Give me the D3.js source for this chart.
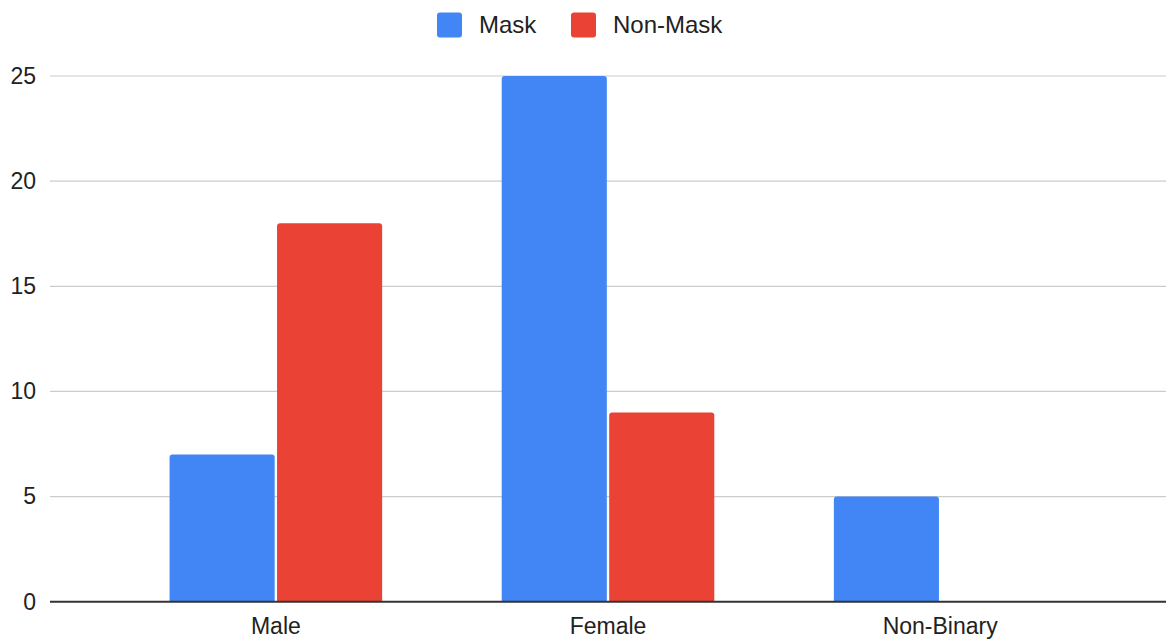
<!DOCTYPE html>
<html>
<head>
<meta charset="utf-8">
<script src="https://cdn.jsdelivr.net/npm/d3@7"></script>
<style>
  html, body { margin: 0; padding: 0; background: #fff; }
  svg { display: block; font-family: "Liberation Sans", Arial, sans-serif; }
</style>
</head>
<body>
<svg id="chart" width="1166" height="641"></svg>
<script>
// Survey counts by gender, split by mask wearing
const categories = ["Male", "Female", "Non-Binary"];
const seriesNames = ["Mask", "Non-Mask"];
const maskValues = [7, 25, 5];
const nonMaskValues = [18, 9, 0];
const yTicks = [0, 5, 10, 15, 20, 25];
const colors = ["#4285F4", "#EA4335"];

const seriesValues = [maskValues, nonMaskValues];
const rows = categories.map((c, i) => ({
  category: c,
  values: seriesNames.map((s, j) => ({ series: s, value: seriesValues[j][i], idx: j }))
}));

const svg = d3.select("#chart");
const W = 1166, H = 641;
const margin = { left: 50, right: 0, top: 76, bottom: 39 };
const plotBottom = 601.7;

const y = d3.scaleLinear().domain([0, 25]).range([plotBottom, 76]);
const x0 = d3.scaleBand().domain(categories).range([margin.left, W - margin.right]).padding(0.36);
const x1 = d3.scaleBand().domain(seriesNames).range([0, x0.bandwidth()]).paddingInner(0.022);

// Horizontal gridlines
svg.append("g")
  .selectAll("line")
  .data(yTicks.filter(t => t !== 0))
  .join("line")
  .attr("x1", margin.left).attr("x2", W)
  .attr("y1", d => y(d)).attr("y2", d => y(d))
  .attr("stroke", "#cccccc").attr("stroke-width", 1.2);

// Y axis labels
const yAxis = d3.axisLeft(y).tickValues(yTicks).tickSize(0).tickPadding(14);
const yg = svg.append("g").attr("transform", `translate(${margin.left},0)`).call(yAxis);
yg.select(".domain").remove();
yg.selectAll("text")
  .attr("font-size", 23)
  .attr("fill", "#222")
  .attr("font-family", "Liberation Sans, Arial, sans-serif");

// Rounded-top bar path
function barPath(x, yTop, w, h, r) {
  if (h <= 0) return "";
  r = Math.min(r, h, w / 2);
  return `M${x},${yTop + h}V${yTop + r}Q${x},${yTop} ${x + r},${yTop}H${x + w - r}Q${x + w},${yTop} ${x + w},${yTop + r}V${yTop + h}Z`;
}

const groups = svg.append("g")
  .selectAll("g")
  .data(rows)
  .join("g")
  .attr("transform", d => `translate(${x0(d.category)},0)`);

groups.selectAll("path")
  .data(d => d.values)
  .join("path")
  .attr("d", d => barPath(x1(d.series), y(d.value), x1.bandwidth(), y(0) - y(d.value), 3))
  .attr("fill", d => colors[d.idx]);

// Baseline
svg.append("line")
  .attr("x1", margin.left).attr("x2", W)
  .attr("y1", y(0)).attr("y2", y(0))
  .attr("stroke", "#333").attr("stroke-width", 2);

// X axis labels
const xAxis = d3.axisBottom(x0).tickSize(0).tickPadding(16);
const xg = svg.append("g").attr("transform", `translate(0,${y(0)})`).call(xAxis);
xg.select(".domain").remove();
xg.selectAll("text")
  .attr("font-size", 23)
  .attr("fill", "#222")
  .attr("font-family", "Liberation Sans, Arial, sans-serif");

// Legend
const legendItems = [
  { name: seriesNames[0], x: 437 },
  { name: seriesNames[1], x: 571 }
];
const lg = svg.append("g");
legendItems.forEach((item, i) => {
  lg.append("rect")
    .attr("x", item.x).attr("y", 12.5)
    .attr("width", 25).attr("height", 25)
    .attr("rx", 3)
    .attr("fill", colors[i]);
  lg.append("text")
    .attr("x", item.x + 42).attr("y", 33)
    .attr("font-size", 24)
    .attr("fill", "#222")
    .text(item.name);
});
</script>
</body>
</html>
